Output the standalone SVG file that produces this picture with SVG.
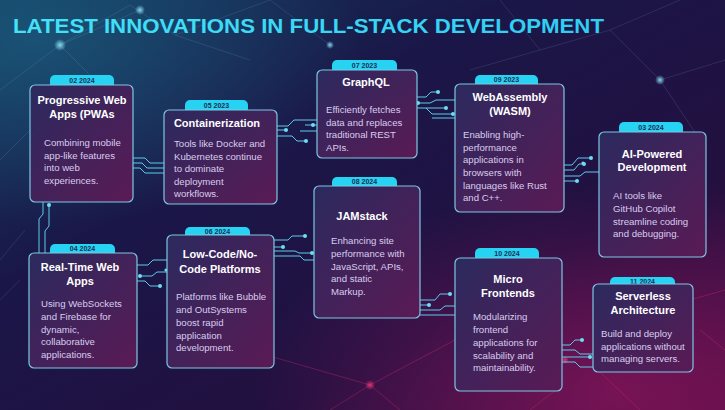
<svg xmlns="http://www.w3.org/2000/svg" width="725" height="410" viewBox="0 0 725 410">
<defs>
<linearGradient id="bg" x1="0" y1="0" x2="1" y2="1">
<stop offset="0" stop-color="#123a5e"/>
<stop offset="0.35" stop-color="#1a1748"/>
<stop offset="0.7" stop-color="#221040"/>
<stop offset="1" stop-color="#4a0d42"/>
</linearGradient>
<radialGradient id="glowTL" cx="0.05" cy="0.1" r="0.45">
<stop offset="0" stop-color="#1f6a8a" stop-opacity="0.55"/>
<stop offset="1" stop-color="#1f6a8a" stop-opacity="0"/>
</radialGradient>
<radialGradient id="glowBR" cx="0.85" cy="0.95" r="0.5">
<stop offset="0" stop-color="#b0186a" stop-opacity="0.5"/>
<stop offset="1" stop-color="#b0186a" stop-opacity="0"/>
</radialGradient>
<linearGradient id="card" x1="0" y1="0" x2="1" y2="1">
<stop offset="0" stop-color="#2b2a5e"/>
<stop offset="1" stop-color="#5a1a55"/>
</linearGradient>
<linearGradient id="title" x1="0" y1="0" x2="1" y2="0">
<stop offset="0" stop-color="#45e3f7"/>
<stop offset="1" stop-color="#2fcdf2"/>
</linearGradient>
<radialGradient id="dotglow">
<stop offset="0" stop-color="#8fe8ff" stop-opacity="0.9"/>
<stop offset="1" stop-color="#8fe8ff" stop-opacity="0"/>
</radialGradient>
<radialGradient id="pinkglow">
<stop offset="0" stop-color="#ff3b7a" stop-opacity="0.8"/>
<stop offset="1" stop-color="#ff3b7a" stop-opacity="0"/>
</radialGradient>
</defs>
<style>
.card{fill:url(#card);stroke:#7cc7e2;stroke-width:1.2}
.tab{fill:#27d3f2}
.tabt{font-family:"Liberation Sans",Arial,sans-serif;font-size:7px;font-weight:bold;fill:#1b2d55;text-anchor:middle}
.ttl{font-family:"Liberation Sans",Arial,sans-serif;font-size:11px;font-weight:bold;fill:#ffffff;text-anchor:middle}
.body{font-family:"Liberation Sans",Arial,sans-serif;font-size:9.6px;fill:#d9cdee}
.wire{fill:none;stroke:#5ccbea;stroke-width:1}
.dot{fill:#6fdcf5}
.net{stroke:#9bb6e0;stroke-width:0.6;stroke-opacity:0.25;fill:none}
.netp{stroke:#e0306a;stroke-width:0.7;stroke-opacity:0.45;fill:none}
</style>
<rect width="725" height="410" fill="url(#bg)"/>
<rect width="725" height="410" fill="url(#glowTL)"/>
<rect width="725" height="410" fill="url(#glowBR)"/>
<g id="background-network">
<path class="net" d="M0,90 L60,45 L130,5 M60,45 L140,10 M60,45 L95,80 M0,160 L40,120 L95,80 M130,5 L175,35 L270,0 M175,35 L250,60 M270,0 L330,45 M500,0 L540,50 L610,30 L680,0 M610,30 L660,80 L725,60 M660,80 L700,140 M540,50 L470,70 M0,260 L25,230 M0,300 L20,280"/>
<path class="netp" d="M273,357 L370,385 L455,340 M370,385 L330,410 M370,385 L400,410 M562,385 L530,410 M600,372 L640,410 M690,300 L725,290 M700,330 L725,350"/>
<circle cx="60" cy="45" r="6" fill="url(#dotglow)"/>
<circle cx="95" cy="80" r="4" fill="url(#dotglow)"/>
<circle cx="140" cy="10" r="5" fill="url(#dotglow)"/>
<circle cx="330" cy="45" r="4" fill="url(#dotglow)"/>
<circle cx="660" cy="80" r="5" fill="url(#dotglow)"/>
<circle cx="370" cy="385" r="5" fill="url(#pinkglow)"/>
<circle cx="565" cy="360" r="4" fill="url(#pinkglow)"/>
</g>
<text x="13" y="33" textLength="591" lengthAdjust="spacingAndGlyphs" font-family="'Liberation Sans',Arial,sans-serif" font-size="21" font-weight="bold" fill="url(#title)">LATEST INNOVATIONS IN FULL-STACK DEVELOPMENT</text>
<g id="connectors">
<path class="wire" d="M133,158 H145 L150,163 H164 M133,163 H142 L147,168 H164 M133,168 H140 L145,173 H164"/>
<path class="wire" d="M277,126 H288 L294,120 H317 M277,130 H286 M277,136 H292 L297,141 H306 M305,125 H317 M300,131 H317"/>
<circle class="dot" cx="286" cy="130" r="2"/><circle class="dot" cx="306" cy="141" r="2"/><circle class="dot" cx="313" cy="125" r="2"/>
<path class="wire" d="M417,97 H426 L431,92 H438 M417,103 H430 L436,100 H455 M417,108 H446 M426,108 L432,114 H453 M432,118 H455"/>
<circle class="dot" cx="438" cy="92" r="2"/><circle class="dot" cx="418" cy="103" r="2"/><circle class="dot" cx="446" cy="108" r="2"/><circle class="dot" cx="453" cy="114" r="2"/>
<path class="wire" d="M564,165 H572 L578,158 H591 M564,170 H574 L579,164 H584 M564,176 H580 L585,172 H599 M564,181 H577"/>
<circle class="dot" cx="591" cy="158" r="2"/><circle class="dot" cx="584" cy="164" r="2"/><circle class="dot" cx="577" cy="181" r="2"/><circle class="dot" cx="583" cy="163" r="1.6"/>
<path class="wire" d="M43,202 V214 L39,219 V253 M49,205 V226 L45,231 V253"/>
<circle class="dot" cx="49" cy="205" r="2"/>
<path class="wire" d="M137,265 H148 L153,260 H167 M140,276 H152 L157,272 H167 M137,281 H145 L150,286 H160"/>
<circle class="dot" cx="140" cy="276" r="2"/><circle class="dot" cx="160" cy="286" r="2"/><circle class="dot" cx="166" cy="270" r="1.6"/>
<path class="wire" d="M274,240 H288 L292,236 H305 M274,247 H283 M274,251 H295 L299,253 H312 M274,256 H300 L304,260 H314"/>
<circle class="dot" cx="305" cy="236" r="2"/><circle class="dot" cx="283" cy="247" r="2"/><circle class="dot" cx="312" cy="253" r="2"/>
<path class="wire" d="M420,300 H435 L440,294 H450 M420,305 H429 M420,310 H440 L445,306 H455 M420,315 H455"/>
<circle class="dot" cx="450" cy="294" r="2"/><circle class="dot" cx="429" cy="305" r="2"/>
<path class="wire" d="M562,345 H570 L575,340 H582 M562,350 H575 L580,354 H593 M562,357 H590 M562,362 H575 L580,367 H593"/>
<circle class="dot" cx="582" cy="340" r="2"/><circle class="dot" cx="590" cy="357" r="2"/>
</g>
<g id="node-pwa">
<rect class="tab" x="50" y="75" width="64" height="14" rx="5"/>
<text class="tabt" x="82" y="82.5">02 2024</text>
<rect class="card" x="30" y="85" width="103" height="117" rx="5"/>
<text class="ttl" x="82" y="104">Progressive Web</text>
<text class="ttl" x="82" y="118">Apps (PWAs</text>
<text class="body" x="44" y="146">Combining mobile</text>
<text class="body" x="44" y="158.5">app-like features</text>
<text class="body" x="44" y="171">into web</text>
<text class="body" x="44" y="183.5">experiences.</text>
</g>
<g id="node-containerization">
<rect class="tab" x="185" y="100" width="63" height="14" rx="5"/>
<text class="tabt" x="216.5" y="107.5">05 2023</text>
<rect class="card" x="164" y="110" width="113" height="94" rx="5"/>
<text class="ttl" x="217" y="127">Containerization</text>
<text class="body" x="174" y="147">Tools like Docker and</text>
<text class="body" x="174" y="160">Kubernetes continue</text>
<text class="body" x="174" y="172">to dominate</text>
<text class="body" x="174" y="184.5">deployment</text>
<text class="body" x="174" y="197">workflows.</text>
</g>
<g id="node-graphql">
<rect class="tab" x="332" y="60" width="65" height="14" rx="5"/>
<text class="tabt" x="364.5" y="67.5">07 2023</text>
<rect class="card" x="317" y="70" width="100" height="88" rx="5"/>
<text class="ttl" x="366" y="86">GraphQL</text>
<text class="body" x="326" y="113">Efficiently fetches</text>
<text class="body" x="326" y="125.5">data and replaces</text>
<text class="body" x="326" y="138">traditional REST</text>
<text class="body" x="326" y="151">APIs.</text>
</g>
<g id="node-wasm">
<rect class="tab" x="475" y="75" width="63" height="14" rx="5"/>
<text class="tabt" x="506.5" y="82">09 2023</text>
<rect class="card" x="455" y="84" width="109" height="128" rx="5"/>
<text class="ttl" x="510" y="101">WebAssembly</text>
<text class="ttl" x="510" y="115">(WASM)</text>
<text class="body" x="463" y="138">Enabling high-</text>
<text class="body" x="463" y="151">performance</text>
<text class="body" x="463" y="163">applications in</text>
<text class="body" x="463" y="176">browsers with</text>
<text class="body" x="463" y="188.5">languages like Rust</text>
<text class="body" x="463" y="201">and C++.</text>
</g>
<g id="node-ai">
<rect class="tab" x="619" y="122" width="64" height="14" rx="5"/>
<text class="tabt" x="651" y="129.5">03 2024</text>
<rect class="card" x="599" y="132" width="107" height="125" rx="5"/>
<text class="ttl" x="652" y="158">AI-Powered</text>
<text class="ttl" x="652" y="171">Development</text>
<text class="body" x="613" y="199">AI tools like</text>
<text class="body" x="613" y="212">GitHub Copilot</text>
<text class="body" x="613" y="224.5">streamline coding</text>
<text class="body" x="613" y="237">and debugging.</text>
</g>
<g id="node-realtime">
<rect class="tab" x="50" y="244" width="65" height="14" rx="5"/>
<text class="tabt" x="82.5" y="251">04 2024</text>
<rect class="card" x="29" y="253" width="108" height="115" rx="5"/>
<text class="ttl" x="80" y="271">Real-Time Web</text>
<text class="ttl" x="80" y="285">Apps</text>
<text class="body" x="41" y="307">Using WebSockets</text>
<text class="body" x="41" y="320">and Firebase for</text>
<text class="body" x="41" y="332.5">dynamic,</text>
<text class="body" x="41" y="345">collaborative</text>
<text class="body" x="41" y="358">applications.</text>
</g>
<g id="node-lowcode">
<rect class="tab" x="185" y="227" width="65" height="14" rx="5"/>
<text class="tabt" x="217.5" y="234">06 2024</text>
<rect class="card" x="167" y="235" width="107" height="133" rx="5"/>
<text class="ttl" x="220" y="258">Low-Code/No-</text>
<text class="ttl" x="220" y="273">Code Platforms</text>
<text class="body" x="176" y="300">Platforms like Bubble</text>
<text class="body" x="176" y="313">and OutSystems</text>
<text class="body" x="176" y="326">boost rapid</text>
<text class="body" x="176" y="338.5">application</text>
<text class="body" x="176" y="351">development.</text>
</g>
<g id="node-jamstack">
<rect class="tab" x="332" y="177" width="65" height="14" rx="5"/>
<text class="tabt" x="364.5" y="184">08 2024</text>
<rect class="card" x="314" y="186" width="106" height="132" rx="5"/>
<text class="ttl" x="362" y="220">JAMstack</text>
<text class="body" x="331" y="244">Enhancing site</text>
<text class="body" x="331" y="256.5">performance with</text>
<text class="body" x="331" y="269.5">JavaScript, APIs,</text>
<text class="body" x="331" y="282">and static</text>
<text class="body" x="331" y="295">Markup.</text>
</g>
<g id="node-microfrontends">
<rect class="tab" x="475" y="248" width="64" height="14" rx="5"/>
<text class="tabt" x="507" y="255.5">10 2024</text>
<rect class="card" x="455" y="258" width="107" height="133" rx="5"/>
<text class="ttl" x="508" y="283">Micro</text>
<text class="ttl" x="508" y="297">Frontends</text>
<text class="body" x="473" y="320">Modularizing</text>
<text class="body" x="473" y="333">frontend</text>
<text class="body" x="473" y="346">applications for</text>
<text class="body" x="473" y="358.5">scalability and</text>
<text class="body" x="473" y="371">maintainability.</text>
</g>
<g id="node-serverless">
<rect class="tab" x="610" y="277" width="65" height="12" rx="5"/>
<text class="tabt" x="642.5" y="283.5">11 2024</text>
<rect class="card" x="593" y="284" width="100" height="88" rx="5"/>
<text class="ttl" x="643" y="300">Serverless</text>
<text class="ttl" x="643" y="314">Architecture</text>
<text class="body" x="601" y="337">Build and deploy</text>
<text class="body" x="601" y="349.5">applications without</text>
<text class="body" x="601" y="362">managing servers.</text>
</g>
</svg>
